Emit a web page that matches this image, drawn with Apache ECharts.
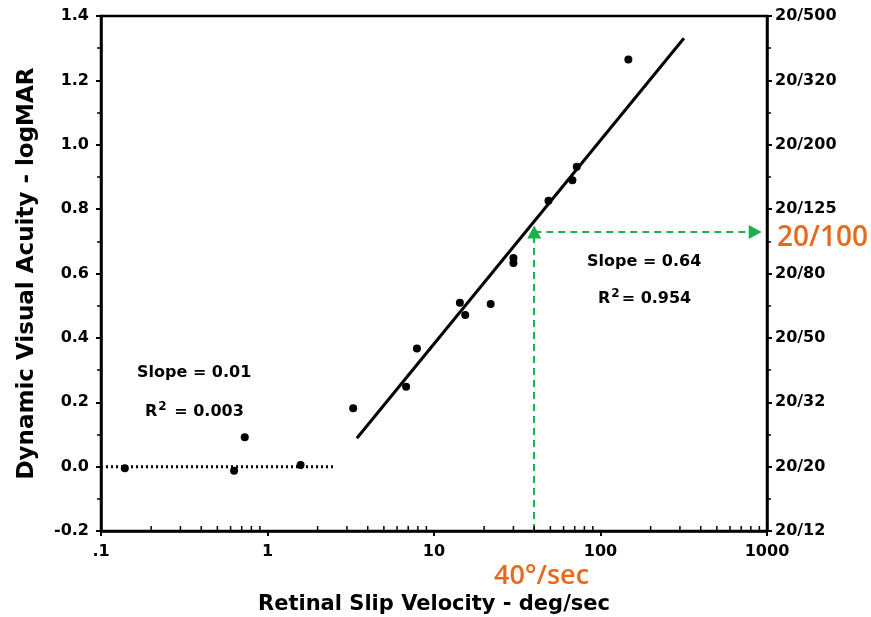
<!DOCTYPE html>
<html><head><meta charset="utf-8">
<script src="https://cdn.jsdelivr.net/npm/echarts@6/dist/echarts.min.js"></script>
<style>html,body{margin:0;padding:0;background:#fff}#c{width:871px;height:617px}</style>
</head><body><div id="c"></div>
<script>
// ---- data ----
const flatPoints = [[0.139,-0.005],[0.63,-0.013],[0.73,0.091],[1.58,0.005]];
const slopePoints = [[3.27,0.181],[6.8,0.248],[7.9,0.367],[14.3,0.509],[15.4,0.471],[21.9,0.505],[30,0.648],[30,0.633],[48.7,0.826],[67.8,0.89],[72,0.932],[147,1.265]];
const flatFit = [[0.1,0],[2.5,0]];
const slopeFit = [[3.44,0.088],[317,1.331]];
const xTickLabels = ['.1','1','10','100','1000'];
const yTickValues = [-0.2,0,0.2,0.4,0.6,0.8,1.0,1.2,1.4];
const snellenLabels = ['20/12','20/20','20/32','20/50','20/80','20/125','20/200','20/320','20/500'];
const guideVelocity = 40;
const guideAcuity = 0.729;
const guideEndVelocity = 850;
const minorDecades = [0.1,1,10,100];
const minorMultipliers = [2,3,4,5,6,7,8,9];

const minorXTicks = [];
minorDecades.forEach(d => minorMultipliers.forEach(m => minorXTicks.push([d*m,-0.2])));

const F = '"DejaVu Sans", Verdana, sans-serif';
const chart = echarts.init(document.getElementById('c'));
chart.setOption({
  animation:false,
  backgroundColor:'#fff',
  grid:{left:101,right:104,top:16,bottom:86,containLabel:false,outerBoundsMode:'none',
    show:true,borderColor:'#000',borderWidth:2.5,backgroundColor:'transparent'},
  xAxis:{type:'log',logBase:10,min:0.1,max:1000,
    axisLine:{show:true,onZero:false,lineStyle:{color:'#000',width:2.5}},
    axisTick:{show:true,length:5,lineStyle:{color:'#000',width:2}},
    splitLine:{show:false},
    axisLabel:{color:'#000',fontFamily:F,fontWeight:'bold',fontSize:16,margin:13,
      formatter:v=>{const i=Math.round(Math.log10(v))+1;return xTickLabels[i]||'';}},
    name:'Retinal Slip Velocity - deg/sec',nameLocation:'middle',nameGap:63,
    nameTextStyle:{color:'#000',fontFamily:F,fontWeight:'bold',fontSize:21}},
  yAxis:[{type:'value',min:-0.2,max:1.4,interval:0.2,position:'left',
    axisLine:{show:true,onZero:false,lineStyle:{color:'#000',width:2.5}},
    axisTick:{show:true,length:5,lineStyle:{color:'#000',width:2}},
    minorTick:{show:true,splitNumber:2,length:4,lineStyle:{color:'#000',width:1.5}},
    splitLine:{show:false},
    axisLabel:{color:'#000',fontFamily:F,fontWeight:'bold',fontSize:16,margin:12,
      formatter:v=>v.toFixed(1)},
    name:'Dynamic Visual Acuity - logMAR',nameLocation:'middle',nameGap:62,
    nameTextStyle:{color:'#000',fontFamily:F,fontWeight:'bold',fontSize:23}},
   {type:'value',min:-0.2,max:1.4,interval:0.2,position:'right',
    axisLine:{show:true,onZero:false,lineStyle:{color:'#000',width:2.5}},
    axisTick:{show:true,length:5,lineStyle:{color:'#000',width:2}},
    minorTick:{show:true,splitNumber:2,length:4,lineStyle:{color:'#000',width:1.5}},
    splitLine:{show:false},
    axisLabel:{color:'#000',fontFamily:F,fontWeight:'bold',fontSize:16,margin:8,
      formatter:v=>{const i=yTickValues.findIndex(t=>Math.abs(t-v)<1e-6);return i>=0?snellenLabels[i]:'';}}}],
  series:[
    {type:'line',data:flatFit,showSymbol:false,symbol:'none',
      lineStyle:{color:'#000',width:3,type:[2,3]},z:3},
    {type:'line',data:slopeFit,showSymbol:false,symbol:'none',
      lineStyle:{color:'#000',width:3},z:3},
    {type:'scatter',data:flatPoints.concat(slopePoints),symbol:'circle',symbolSize:8,
      itemStyle:{color:'#000',opacity:1},z:4},
    {type:'scatter',data:minorXTicks,symbol:'rect',symbolSize:[1.5,5],symbolOffset:[0,-2.5],
      itemStyle:{color:'#000',opacity:1},clip:false,silent:true,z:5},
    {type:'line',data:[],markLine:{silent:true,symbol:['none','triangle'],symbolSize:[14,13],
      lineStyle:{color:'#1DB04F',width:2,type:[7,5]},label:{show:false},
      data:[
        [{coord:[guideVelocity,-0.2],symbol:'none'},{coord:[guideVelocity,guideAcuity]}],
        [{coord:[guideVelocity,guideAcuity],symbol:'none'},{coord:[guideEndVelocity,guideAcuity]}]
      ]}}
  ],
  graphic:[
    {type:'text',left:137,top:365,style:{text:'Slope = 0.01',font:'bold 16px '+F,fill:'#000'}},
    {type:'text',left:145,top:401,style:{text:'R{s|2} = 0.003',font:'bold 16px '+F,fill:'#000',
      rich:{s:{font:'bold 12px '+F,padding:[0,2,9,1]}}}},
    {type:'text',left:587,top:254,style:{text:'Slope = 0.64',font:'bold 16px '+F,fill:'#000'}},
    {type:'text',left:598,top:288,style:{text:'R{s|2}= 0.954',font:'bold 16px '+F,fill:'#000',
      rich:{s:{font:'bold 12px '+F,padding:[0,2,9,1]}}}},
    {type:'text',left:777,top:224,style:{text:'20/100',font:'600 28px "Open Sans", sans-serif',fill:'#E8691C'}},
    {type:'text',left:494,top:563,style:{text:'40°/sec',font:'600 27px "Open Sans", sans-serif',fill:'#E8691C'}}
  ]
});
</script></body></html>
